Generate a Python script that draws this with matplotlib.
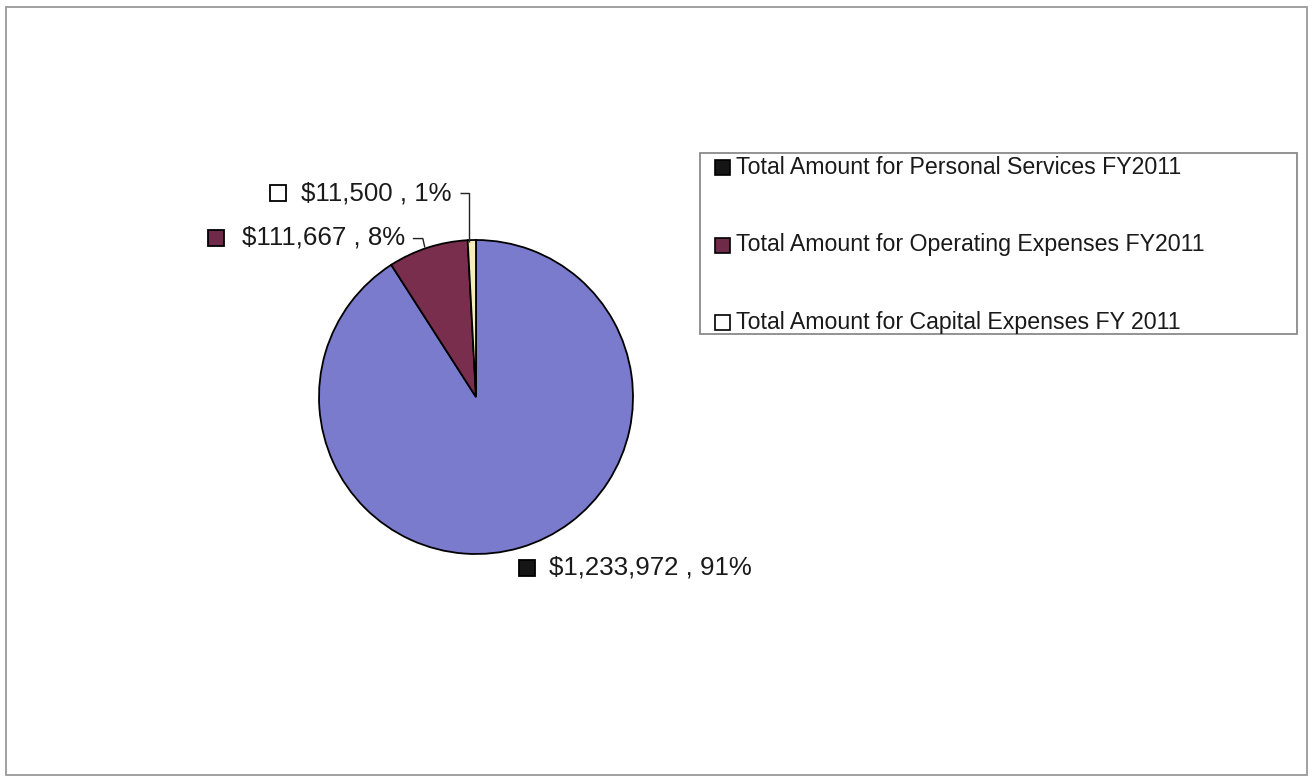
import matplotlib
matplotlib.use("Agg")
import matplotlib.pyplot as plt
from matplotlib.patches import Rectangle
import numpy as np

plt.rcParams['font.family'] = ['Liberation Sans', 'DejaVu Sans']

# Budget data
categories = [
    "Total Amount for Personal Services FY2011",
    "Total Amount for Operating Expenses FY2011",
    "Total Amount for Capital Expenses FY 2011",
]
amounts = [1233972, 111667, 11500]
slice_colors = ["#7B7BCE", "#7A2E4E", "#F6EDB8"]
key_colors = ["#151515", "#6E2A48", "#FFFFFF"]

W, H = 1312, 778
fig = plt.figure(figsize=(W / 100, H / 100), dpi=100)
fig.patch.set_facecolor("white")


def fx(px):
    return px / W


def fy(py):
    return 1 - py / H


# Outer chart frame
fig.patches.append(Rectangle((fx(6), fy(775)), fx(1307) - fx(6), fy(7) - fy(775),
                             transform=fig.transFigure, fill=False,
                             edgecolor="#9A9A9A", linewidth=1.3))

# Pie axes
cx, cy, r = 476, 397, 157
ax = fig.add_axes([fx(cx - r), fy(cy + r), 2 * r / W, 2 * r / H])

wedges, _ = ax.pie(amounts, colors=slice_colors, startangle=90, counterclock=False,
                   radius=1, wedgeprops=dict(edgecolor="black", linewidth=1.3))
ax.set_xlim(-1, 1)
ax.set_ylim(-1, 1)
ax.set_aspect("auto")
ax.axis("off")

total = sum(amounts)
pcts = [round(a / total * 100) for a in amounts]
label_texts = [f"${a:,} , {p}%" for a, p in zip(amounts, pcts)]

# label placement relative to the slice's outer edge (pixel offsets, y downward)
layout = [
    dict(key_dx=7, text_dx=29, dy=20, ha="left", leader=None),
    dict(key_dx=-212, text_dx=-23, dy=-10, ha="right",
         leader=[(-3, 0), (-5, -9), (-15, -9)]),
    dict(key_dx=-194, text_dx=-20, dy=-47, ha="right",
         leader=[(-3, 2), (-3, -47), (-12, -47)]),
]

label_fs = 18.6
inv = ax.transData.inverted()
for w, txt, kc, lay in zip(wedges, label_texts, key_colors, layout):
    mid = np.deg2rad((w.theta1 + w.theta2) / 2)
    ex, ey = np.cos(mid), np.sin(mid)
    disp = ax.transData.transform((ex, ey))

    def pt(dx, dy):
        return inv.transform((disp[0] + dx, disp[1] - dy))

    if lay["leader"]:
        pts = np.array([pt(dx, dy) for dx, dy in lay["leader"]])
        ax.plot(pts[:, 0], pts[:, 1], color="#222222", linewidth=1.0,
                clip_on=False, solid_capstyle="butt")
    kx, ky = pt(lay["key_dx"], lay["dy"])
    ax.plot(kx, ky, marker="s", markersize=11, markerfacecolor=kc,
            markeredgecolor="black", markeredgewidth=1.3, clip_on=False)
    tx, ty = pt(lay["text_dx"], lay["dy"])
    ax.text(tx, ty, txt, fontsize=label_fs, ha=lay["ha"], va="center",
            color="#1A1A1A", clip_on=False)

# Legend box
lx0, ly0, lx1, ly1 = 700, 153, 1297, 334
fig.patches.append(Rectangle((fx(lx0), fy(ly1)), fx(lx1) - fx(lx0), fy(ly0) - fy(ly1),
                             transform=fig.transFigure, fill=False,
                             edgecolor="#8A8A8A", linewidth=1.3))
row_y = [167, 245, 322]
for cat, kc, yy in zip(categories, key_colors, row_y):
    fig.patches.append(Rectangle((fx(715), fy(yy + 8)), 15 / W, 15 / H,
                                 transform=fig.transFigure, facecolor=kc,
                                 edgecolor="black", linewidth=1.2))
    fig.text(fx(736), fy(yy), cat, fontsize=16.65, ha="left", va="center",
             color="#1A1A1A")

fig.savefig("out.png", dpi=100, facecolor="white")
